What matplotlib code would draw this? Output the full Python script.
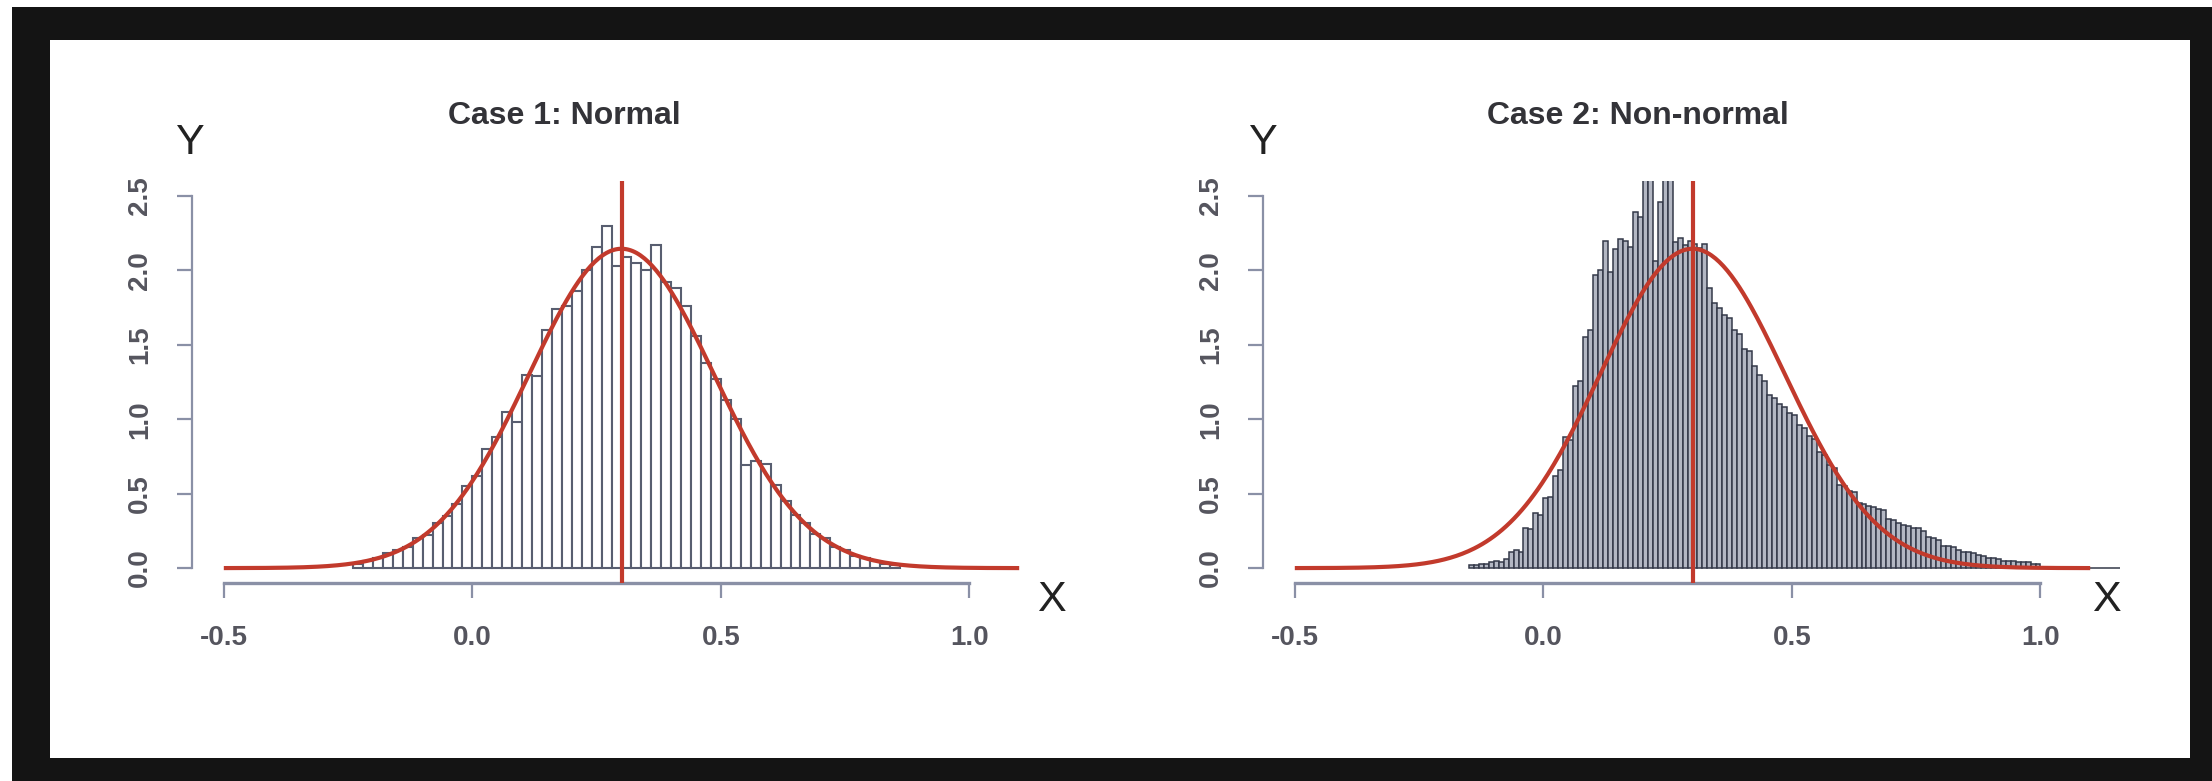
import numpy as np
import matplotlib
matplotlib.use("Agg")
import matplotlib.pyplot as plt
from matplotlib.patches import Rectangle

plt.rcParams["font.family"] = ["Liberation Sans", "DejaVu Sans"]

# ---- data -------------------------------------------------------------
titles = ["Case 1: Normal", "Case 2: Non-normal"]
x_ticks = [-0.5, 0.0, 0.5, 1.0]
x_ticklabels = ["-0.5", "0.0", "0.5", "1.0"]
y_ticks = [0.0, 0.5, 1.0, 1.5, 2.0, 2.5]
y_ticklabels = ["0.0", "0.5", "1.0", "1.5", "2.0", "2.5"]

# Case 1 histogram (density), bins of width 0.02 starting at -0.24
normal_bin_start = -0.24
normal_bin_width = 0.02
normal_density = [
    0.03, 0.05, 0.07, 0.10, 0.12, 0.14, 0.20, 0.22, 0.30, 0.35,
    0.43, 0.55, 0.62, 0.80, 0.88, 1.05, 0.98, 1.30, 1.29, 1.60,
    1.74, 1.76, 1.86, 2.00, 2.16, 2.30, 2.03, 2.09, 2.05, 2.00,
    2.17, 1.92, 1.88, 1.76, 1.56, 1.38, 1.27, 1.13, 1.00, 0.69,
    0.72, 0.70, 0.56, 0.45, 0.36, 0.30, 0.23, 0.20, 0.14, 0.12,
    0.08, 0.07, 0.05, 0.03, 0.02,
]

# Case 2 histogram (density), bins of width 0.01 starting at -0.15
skew_bin_start = -0.15
skew_bin_width = 0.01
skew_density = [
    0.02, 0.02, 0.03, 0.03, 0.04, 0.05, 0.04, 0.06, 0.11, 0.12,
    0.11, 0.27, 0.26, 0.37, 0.36, 0.47, 0.48, 0.62, 0.66, 0.88,
    0.86, 1.22, 1.26, 1.55, 1.60, 1.97, 2.00, 2.20, 1.99, 2.14,
    2.21, 2.20, 2.16, 2.39, 2.36, 2.75, 2.70, 2.06, 2.46, 2.72,
    2.70, 2.19, 2.22, 2.17, 2.20, 2.18, 2.15, 2.18, 1.88, 1.78,
    1.75, 1.70, 1.68, 1.60, 1.57, 1.47, 1.46, 1.36, 1.30, 1.26,
    1.16, 1.14, 1.10, 1.08, 1.04, 1.03, 0.96, 0.94, 0.89, 0.87,
    0.78, 0.76, 0.69, 0.67, 0.56, 0.55, 0.52, 0.51, 0.44, 0.43,
    0.42, 0.41, 0.40, 0.39, 0.33, 0.32, 0.30, 0.29, 0.28, 0.27,
    0.27, 0.25, 0.21, 0.20, 0.19, 0.15, 0.15, 0.14, 0.12, 0.11,
    0.11, 0.10, 0.09, 0.08, 0.07, 0.07, 0.06, 0.05, 0.05, 0.05,
    0.04, 0.04, 0.04, 0.03, 0.03, 0.00, 0.00, 0.00, 0.00, 0.00,
    0.00, 0.00, 0.00, 0.00, 0.00, 0.00, 0.00, 0.00, 0.00, 0.00,
    0.00,
]

# fitted normal curve parameters and the reference line
fit_mean = 0.30
fit_sd = 0.186
curve_range = (-0.5, 1.1)
ref_line_x = 0.30

# ---- style ------------------------------------------------------------
W, H = 2212, 781
fig = plt.figure(figsize=(W / 100, H / 100), dpi=100)
fig.patch.set_facecolor("white")

axis_col = "#8a90a6"
label_col = "#55555e"
red = "#c23a2c"


def px_box(x0, y0, x1, y1):
    return [x0 / W, 1 - y1 / H, (x1 - x0) / W, (y1 - y0) / H]


def style_axes(ax):
    ax.set_xlim(-0.564, 1.164)
    ax.set_ylim(-0.1, 2.6)
    for s in ("top", "right"):
        ax.spines[s].set_visible(False)
    ax.spines["left"].set_bounds(0.0, 2.5)
    ax.spines["bottom"].set_bounds(-0.5, 1.0)
    ax.spines["left"].set_color(axis_col)
    ax.spines["bottom"].set_color(axis_col)
    ax.spines["left"].set_linewidth(1.6)
    ax.spines["bottom"].set_linewidth(2.4)
    ax.set_xticks(x_ticks)
    ax.set_xticklabels(x_ticklabels, fontweight="bold")
    ax.set_yticks(y_ticks)
    ax.set_yticklabels(y_ticklabels, rotation=90, va="center", fontweight="bold")
    ax.tick_params(axis="x", length=11, width=1.6, color=axis_col,
                   pad=19, labelsize=20, labelcolor=label_col)
    ax.tick_params(axis="y", length=11, width=1.6, color=axis_col,
                   pad=17, labelsize=20, labelcolor=label_col)
    ax.patch.set_alpha(0)


def draw_curve(ax):
    xs = np.linspace(curve_range[0], curve_range[1], 400)
    ys = np.exp(-0.5 * ((xs - fit_mean) / fit_sd) ** 2) / (fit_sd * np.sqrt(2 * np.pi))
    ax.plot(xs, ys, color=red, lw=3.0, solid_capstyle="butt", zorder=4)
    ax.axvline(ref_line_x, color=red, lw=3.0, zorder=5)


# Case 1
ax1 = fig.add_axes(px_box(192, 181, 1051, 583))
style_axes(ax1)
edges1 = normal_bin_start + normal_bin_width * np.arange(len(normal_density))
ax1.bar(edges1, normal_density, width=normal_bin_width, align="edge",
        facecolor="white", edgecolor="#585e70", linewidth=1.5, zorder=2)
draw_curve(ax1)

# Case 2
ax2 = fig.add_axes(px_box(1263, 181, 2122, 583))
style_axes(ax2)
edges2 = skew_bin_start + skew_bin_width * np.arange(len(skew_density))
ax2.bar(edges2, skew_density, width=skew_bin_width, align="edge",
        facecolor="#b3b7c3", edgecolor="#343949", linewidth=1.1, zorder=2)
draw_curve(ax2)

# titles and axis letters
title_kw = dict(fontsize=23, fontweight="bold", color="#333338",
                ha="center", va="center")
fig.text(564 / W, 1 - 116 / H, titles[0], **title_kw)
fig.text(1638 / W, 1 - 116 / H, titles[1], **title_kw)

letter_kw = dict(fontsize=31, color="#222222", ha="center", va="center")
fig.text(190 / W, 1 - 143 / H, "Y", **letter_kw)
fig.text(1263 / W, 1 - 143 / H, "Y", **letter_kw)
fig.text(1051 / W, 1 - 600 / H, "X", **letter_kw)
fig.text(2106 / W, 1 - 600 / H, "X", **letter_kw)

# dark frame around the panel
frame = "#141414"
for (x0, y0, x1, y1) in [(12, 7, 2212, 40), (12, 7, 50, 781),
                         (12, 758, 2212, 781), (2190, 7, 2212, 781)]:
    fig.patches.append(Rectangle((x0 / W, 1 - y1 / H), (x1 - x0) / W, (y1 - y0) / H,
                                 transform=fig.transFigure, facecolor=frame,
                                 edgecolor="none", zorder=10))

fig.savefig("out.png", dpi=100)
